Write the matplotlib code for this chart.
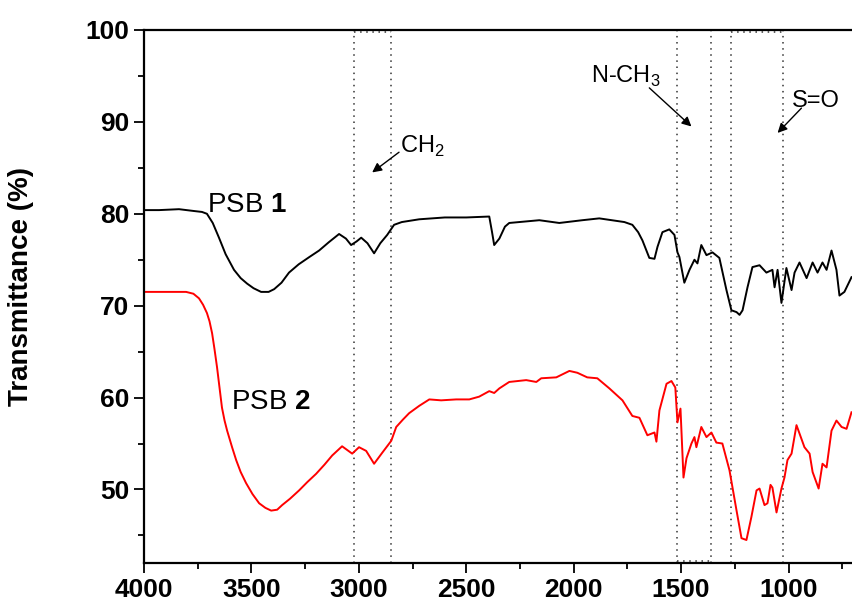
import matplotlib
matplotlib.use("Agg")
import matplotlib.pyplot as plt

# PSB 1 (black trace)
wn1 = [4000, 3930, 3837, 3767, 3730, 3707, 3680, 3651, 3620, 3581, 3550, 3520, 3490, 3455,
       3420, 3394, 3360, 3325, 3280, 3230, 3185, 3140, 3092, 3060, 3036,
       3010, 2989, 2960, 2929, 2900, 2868, 2836, 2800, 2719, 2600, 2500, 2393, 2380, 2370,
       2346, 2320, 2300, 2160, 2067, 1960, 1881, 1764, 1727,
       1700, 1680, 1648, 1624, 1610, 1587, 1555, 1531, 1517, 1508, 1485, 1461, 1438, 1424, 1406,
       1382, 1354, 1322, 1289, 1266, 1242, 1228, 1214, 1191, 1168, 1135, 1103, 1075, 1065,
       1051, 1033, 1010, 986, 972, 949, 916, 888, 865, 842, 823, 800, 777, 763, 740, 707]
t1 = [80.4, 80.4, 80.5, 80.3, 80.2, 80.0, 79.0, 77.4, 75.6, 73.9, 73.0, 72.4, 71.9, 71.5,
      71.5, 71.8, 72.5, 73.6, 74.5, 75.3, 76.0, 76.9, 77.8, 77.3, 76.6,
      77.0, 77.4, 76.8, 75.7, 76.8, 77.7, 78.8, 79.1, 79.4, 79.6, 79.6, 79.7, 78.0, 76.6,
      77.3, 78.6, 79.0, 79.3, 79.0, 79.3, 79.5, 79.1, 78.8,
      78.0, 77.1, 75.2, 75.1, 76.4, 78.0, 78.3, 77.7, 75.8, 75.3, 72.5, 73.9, 75.0, 74.6, 76.6,
      75.5, 75.8, 75.2, 71.7, 69.5, 69.3, 69.0, 69.5, 72.0, 74.2, 74.4, 73.6, 73.9, 72.0,
      73.9, 70.3, 74.1, 71.7, 73.6, 74.7, 73.0, 74.7, 73.6, 74.7, 73.9, 76.0, 73.9, 71.1,
      71.5, 73.1]

# PSB 2 (red trace)
wn2 = [4000, 3804, 3770, 3744, 3725, 3707, 3695, 3683, 3672, 3660, 3648, 3637, 3625, 3613,
       3590, 3571, 3550, 3525, 3495, 3464, 3435, 3408, 3380, 3357, 3320, 3278,
       3240, 3199, 3160, 3124, 3078, 3031, 2999, 2966, 2929, 2891, 2849, 2826, 2795, 2766, 2719,
       2672, 2617, 2547, 2486, 2440, 2393, 2370, 2346, 2300, 2221, 2174, 2151, 2081, 2020,
       1983, 1937, 1890, 1834, 1773, 1727, 1694, 1657, 1624, 1615, 1601, 1568, 1545, 1527,
       1517, 1503, 1489, 1475, 1452, 1438, 1429, 1406, 1382, 1359, 1336, 1308, 1275, 1242,
       1219, 1196, 1173, 1149, 1135, 1112, 1098, 1084, 1075, 1056, 1033, 1019, 1005, 986,
       963, 926, 902, 888, 860, 842, 823, 800, 777, 753, 730, 707]
t2 = [71.5, 71.5, 71.3, 70.8, 70.1, 69.2, 68.3, 67.0, 65.3, 63.3, 61.0, 58.9, 57.5, 56.4,
      54.6, 53.2, 51.9, 50.7, 49.5, 48.5, 48.0, 47.7, 47.8, 48.3, 49.0, 49.9,
      50.8, 51.7, 52.7, 53.7, 54.7, 53.9, 54.6, 54.2, 52.8, 54.0, 55.3, 56.8, 57.6, 58.3, 59.1,
      59.8, 59.7, 59.8, 59.8, 60.1, 60.7, 60.5, 61.0, 61.7, 61.9, 61.7, 62.1, 62.2, 62.9,
      62.7, 62.2, 62.1, 61.0, 59.7, 58.0, 57.8, 55.9, 56.2, 55.2, 58.6, 61.5, 61.8, 61.1,
      57.3, 58.8, 51.3, 53.4, 55.0, 55.7, 54.6, 56.8, 55.7, 56.2, 55.1, 55.0, 52.1, 47.7,
      44.7, 44.5, 47.0, 49.9, 50.1, 48.3, 48.5, 50.5, 50.2, 47.5, 50.1, 51.3, 53.2, 53.9,
      57.0, 54.6, 53.9, 51.9, 50.1, 52.8, 52.4, 56.4, 57.5, 56.8, 56.6, 58.4]

# marked bands (start, end) and which edge is drawn dotted
bands = [(3021, 2849), (1521, 1363), (1270, 1027)]
band_edges = ["top", "bottom", "top"]

plt.rcParams['font.family'] = ['Liberation Sans', 'DejaVu Sans']
plt.rcParams['mathtext.fontset'] = 'custom'
plt.rcParams['mathtext.rm'] = 'Liberation Sans'
plt.rcParams['mathtext.bf'] = 'Liberation Sans:bold'

fig = plt.figure(figsize=(8.53, 6.07), dpi=100)
ax = fig.add_axes([0.1688, 0.0725, 0.8312, 0.8781])

ax.plot(wn1, t1, color='black', lw=1.4)
ax.plot(wn2, t2, color='#ff0000', lw=1.4)

ymin, ymax = 42, 100
for (a, b), edge in zip(bands, band_edges):
    for w in (a, b):
        ax.plot([w, w], [ymin, ymax], ls=(0, (1, 3)), color='#333333', lw=1.1, zorder=1)
    yy = ymax - 0.25 if edge == "top" else ymin + 0.25
    ax.plot([a, b], [yy, yy], ls=(0, (1, 3)), color='#333333', lw=1.1, zorder=1)

arrow = dict(arrowstyle='-|>', color='black', lw=1.0, mutation_scale=14, shrinkA=0, shrinkB=0)
ax.annotate('', xy=(2938, 84.5), xytext=(2813, 86.7), arrowprops=arrow)
ax.text(2808, 86.6, 'CH$_2$', fontsize=17, va='baseline', ha='left')
ax.annotate('', xy=(1452, 89.5), xytext=(1648, 93.7), arrowprops=arrow)
ax.text(1918, 94.2, 'N-CH$_3$', fontsize=17, va='baseline', ha='left')
ax.annotate('', xy=(1051, 88.8), xytext=(940, 91.5), arrowprops=arrow)
ax.text(986, 91.6, 'S=O', fontsize=17, va='baseline', ha='left')

ax.text(3707, 80.2, r'PSB $\mathbf{1}$', fontsize=20, va='baseline', ha='left')
ax.text(3595, 58.8, r'PSB $\mathbf{2}$', fontsize=20, va='baseline', ha='left')

ax.set_xlim(4000, 700)
ax.set_ylim(ymin, ymax)
ax.set_xticks([4000, 3500, 3000, 2500, 2000, 1500, 1000])
ax.set_xticks([3750, 3250, 2750, 2250, 1750, 1250, 750], minor=True)
ax.set_yticks([50, 60, 70, 80, 90, 100])
ax.set_yticks([45, 55, 65, 75, 85, 95], minor=True)
ax.tick_params(which='major', direction='out', length=7, width=1.3, labelsize=19)
ax.tick_params(which='minor', direction='out', length=4, width=1.3)
for lab in ax.get_xticklabels() + ax.get_yticklabels():
    lab.set_fontweight('bold')

ax.spines['right'].set_visible(False)
for s in ('left', 'bottom', 'top'):
    ax.spines[s].set_linewidth(1.6)

ax.set_ylabel('Transmittance (%)', fontsize=20, fontweight='bold')
ax.yaxis.set_label_coords(-0.155, 0.518)

fig.savefig('out.png', dpi=100)
